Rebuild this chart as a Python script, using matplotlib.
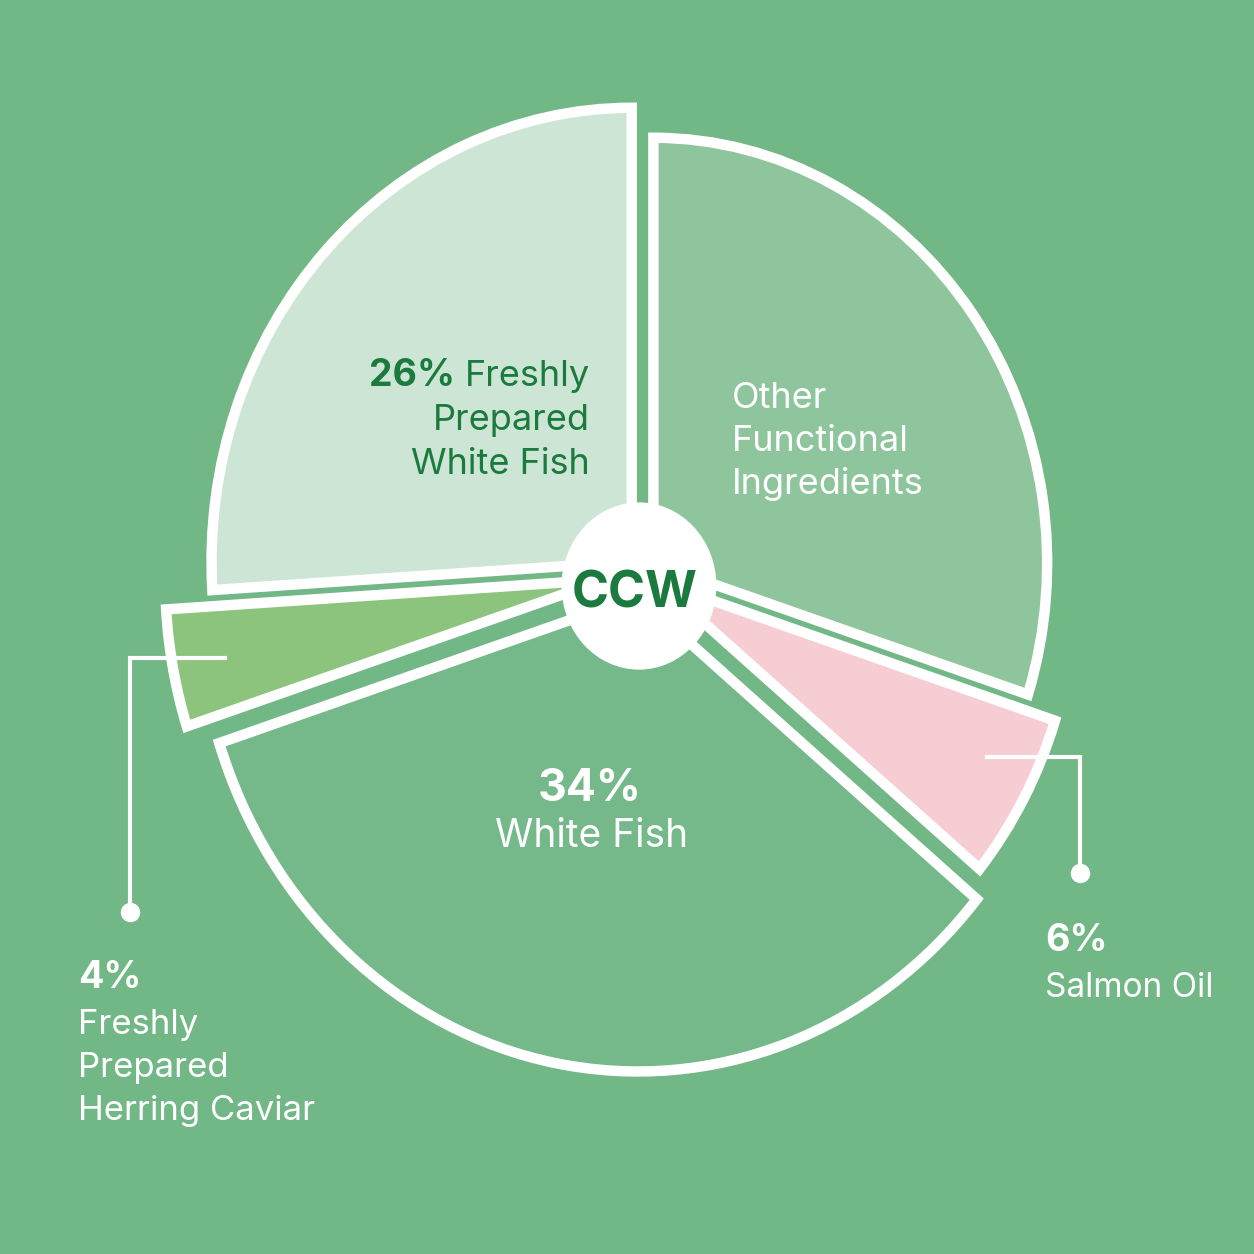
import numpy as np
import matplotlib.pyplot as plt
from matplotlib.patches import Circle

plt.rcParams['font.family'] = ['Inter', 'DejaVu Sans']

# ----------------------------
# Data (counter-clockwise from 12 o'clock)
# ----------------------------
names = ['Freshly Prepared White Fish', 'Freshly Prepared Herring Caviar',
         'White Fish', 'Salmon Oil', 'Other Functional Ingredients']
shares = [26, 4, 34, 6, 30]
pct_labels = ['26%', '4%', '34%', '6%', '']

# ----------------------------
# Styling
# ----------------------------
BG = '#72b786'
DARK = '#1b7a3e'
colors = ['#cde5d4', '#8cc47e', '#75b98a', '#f5cdd3', '#8fc59c']
explode = [0.032, 0.085, 0.052, 0.04, 0.032]
radii = [0.955, 1.0, 1.0, 0.95, 0.895]

# pixel -> data helpers (figure is 1254 px, pie centre near (642, 572))
SX, SY = 440.0, 475.2
CX, CY = 642.0, 572.0

def px(x, y):
    return ((x - CX) / SX, (CY - y) / SY)

fig = plt.figure(figsize=(12.54, 12.54), dpi=100)
fig.patch.set_facecolor(BG)
ax = fig.add_axes([0, 0, 1, 1])
ax.set_facecolor(BG)

wedges, _ = ax.pie(shares, startangle=90, counterclock=True, colors=colors,
                   explode=explode, radius=1,
                   wedgeprops=dict(edgecolor='white', linewidth=7.5))
for w, r in zip(wedges, radii):
    w.set_radius(r)

ax.set_aspect('auto')
ax.set_xlim(-CX / SX, (1254 - CX) / SX)
ax.set_ylim((CY - 1254) / SY, CY / SY)
ax.axis('off')

# centre badge
ax.add_patch(Circle(px(639, 586), 0.176, facecolor='white', edgecolor='none', zorder=5))
ax.text(*px(635, 607), 'CCW', ha='center', va='baseline', fontsize=36,
        fontweight='bold', color=DARK, zorder=6)

def lines(x, y0, rows, size, color, ha='left', step=44, weight='normal'):
    for i, t in enumerate(rows):
        ax.text(*px(x, y0 + i * step), t, ha=ha, va='baseline', fontsize=size,
                color=color, fontweight=weight, zorder=6)

# 26% slice
ax.text(*px(455, 386), pct_labels[0], ha='right', va='baseline', fontsize=27,
        fontweight='bold', color=DARK, zorder=6)
lines(590, 386, ['Freshly', 'Prepared', 'White Fish'], 26, DARK, ha='right')

# other
lines(732, 408, ['Other', 'Functional', 'Ingredients'], 26, 'white', step=43)

# 34% slice
ax.text(*px(590, 801), pct_labels[2], ha='center', va='baseline', fontsize=32,
        fontweight='bold', color='white', zorder=6)
ax.text(*px(592, 847), 'White Fish', ha='center', va='baseline', fontsize=28,
        color='white', zorder=6)

# 4% herring caviar (outside)
ax.text(*px(78, 988), pct_labels[1], ha='left', va='baseline', fontsize=27,
        fontweight='bold', color='white', zorder=6)
lines(78, 1034, ['Freshly', 'Prepared', 'Herring Caviar'], 25, 'white', step=43)

# 6% salmon oil (outside)
ax.text(*px(1045, 951), pct_labels[3], ha='left', va='baseline', fontsize=27,
        fontweight='bold', color='white', zorder=6)
ax.text(*px(1045, 997), 'Salmon Oil', ha='left', va='baseline', fontsize=24,
        color='white', zorder=6)

# leader lines from small slices
def leader(w, elbow_x, dot_y, frac=0.88, dtheta=0.0):
    mid = np.deg2rad((w.theta1 + w.theta2) / 2 + dtheta)
    sx = w.center[0] + frac * w.r * np.cos(mid)
    sy = w.center[1] + frac * w.r * np.sin(mid)
    ex = px(elbow_x, 0)[0]
    dy = px(0, dot_y)[1]
    ax.plot([sx, ex, ex], [sy, sy, dy], color='white', lw=3, zorder=4,
            solid_joinstyle='miter')
    ax.plot([ex], [dy], 'o', color='white', markersize=13, zorder=4)

leader(wedges[1], 130, 912)
leader(wedges[3], 1080, 873, frac=0.88, dtheta=2.5)

plt.savefig('out.png', dpi=100, facecolor=BG)
